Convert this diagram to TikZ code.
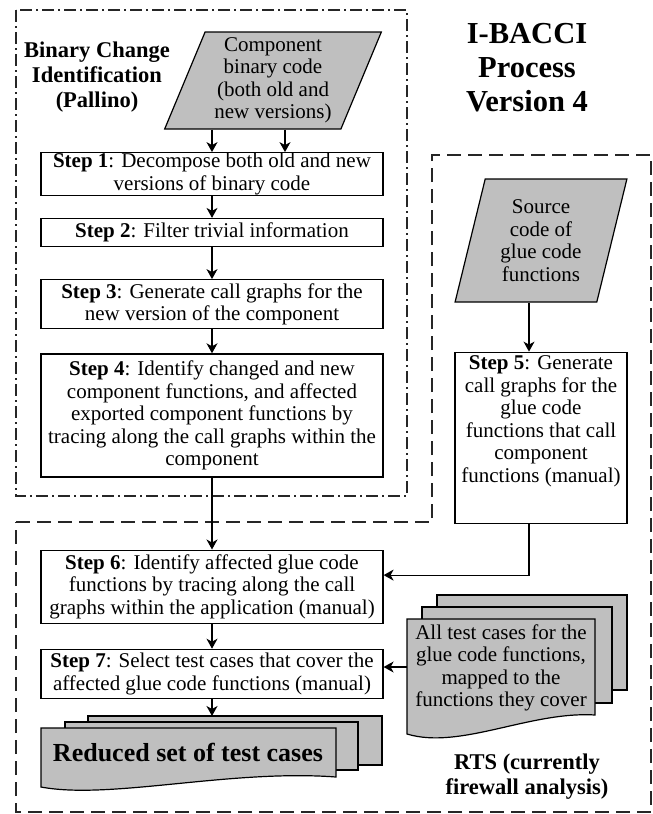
\documentclass[tikz,border=0pt]{standalone}
\usepackage{fontspec}
\setmainfont{Liberation Serif}
\usetikzlibrary{positioning, shapes.geometric, arrows.meta}

\begin{document}
\begin{tikzpicture}[x=1pt, y=-1pt, every node/.style={font=\fontsize{21}{22.5}\selectfont}]

  \tikzstyle{stepbox}=[draw, line width=1.2pt, fill=white, align=center, inner sep=0.5pt, minimum width=342pt]
  \tikzstyle{data}=[trapezium, trapezium stretches=true, draw, line width=1.2pt, fill=black!25, align=center, inner sep=1pt]
  \tikzstyle{boxtitle}=[align=center, inner sep=0pt, font=\fontsize{22.5}{25}\selectfont\bfseries]
  \tikzstyle{sheet}=[draw, line width=1.2pt, fill=black!25]
  \tikzstyle{flow}=[-{Stealth[length=10pt, width=11pt, inset=3pt]}, line width=1.2pt]

  \useasboundingbox (0,0) rectangle (653,814);

  % group borders
  \draw [dash pattern=on 12pt off 4pt on 2pt off 4pt, line width=1.2pt, black!85] (16,10) rectangle (407,496);
  \draw [dash pattern=on 14pt off 7pt, line width=1.2pt, black!85]
    (16,522) -- (432,522) -- (432,155) -- (651,155) -- (651,812) -- (16,812) -- cycle;

  \node [boxtitle, font=\fontsize{30.5}{34}\selectfont\bfseries] (title) at (527,67.5) {I-BACCI\\Process\\Version 4};
  \node [boxtitle] (pallino) at (97,77) {Binary Change\\Identification\\(Pallino)};
  \node [boxtitle] (rts) at (527,777) {RTS (currently\\firewall analysis)};

  \node [data, trapezium left angle=68, trapezium right angle=112, minimum width=217pt, minimum height=97pt] (binary) at (273,80.5) {
    Component\\binary code\\(both old and\\new versions)
  };

  \node [stepbox, minimum height=40pt] (s1) at (212,174) {\textbf{Step 1}: Decompose both old and new\\versions of binary code};
  \node [stepbox, minimum height=28pt, below=22pt of s1] (s2) {\textbf{Step 2}: Filter trivial information};
  \node [stepbox, minimum height=49pt, below=32pt of s2] (s3) {\textbf{Step 3}: Generate call graphs for the\\new version of the component};
  \node [stepbox, minimum height=123pt, below=24pt of s3] (s4) {
    \textbf{Step 4}: Identify changed and new\\
    component functions, and affected\\
    exported component functions by\\
    tracing along the call graphs within the\\
    component
  };
  \node [stepbox, minimum height=73pt, below=72pt of s4] (s6) {
    \textbf{Step 6}: Identify affected glue code\\
    functions by tracing along the call\\
    graphs within the application (manual)
  };
  \node [stepbox, minimum height=49pt, below=25pt of s6] (s7) {
    \textbf{Step 7}: Select test cases that cover the\\
    affected glue code functions (manual)
  };

  \node [data, trapezium left angle=75, trapezium right angle=105, minimum width=172pt, minimum height=123pt] (source) at (541,240.5) {
    Source\\code of\\glue code\\functions
  };
  \node [stepbox, minimum width=172pt, minimum height=171pt, below=49pt of source] (s5) {};
  \node [below=3pt of s5.north, align=center, inner sep=1pt] (s5-text) {
    \textbf{Step 5}: Generate\\call graphs for the\\glue code\\functions that call\\component\\functions (manual)
  };

  % stacked documents
  \draw [sheet] (88,716) rectangle (382,765);
  \draw [sheet] (65,722) rectangle (358,770);
  \draw [sheet] (41,728) -- (336,728) -- (336,777) .. controls (230,769) and (110,800) .. (41,787) -- cycle;
  \node [font=\fontsize{26}{30}\selectfont\bfseries] (reduced) at (188,752) {Reduced set of test cases};

  \draw [sheet] (437,595) rectangle (627,690);
  \draw [sheet] (422,607) rectangle (612,703);
  \draw [sheet] (407,619) -- (595,619) -- (595,715) .. controls (530,711) and (460,750) .. (407,734) -- cycle;
  \node [align=center] (tests) at (501,668) {All test cases for the\\glue code functions,\\mapped to the\\functions they cover};

  \coordinate (binary-b) at (285,0);
  \coordinate (tests-w) at (407,667);
  \coordinate (reduced-n) at (212,716);

  \draw [flow] (binary.south -| s1) -- (s1);
  \draw [flow] (binary.south -| binary-b) -- (binary-b |- s1.north);
  \draw [flow] (s1) -- (s2);
  \draw [flow] (s2) -- (s3);
  \draw [flow] (s3) -- (s4);
  \draw [flow] (s4) -- (s6);
  \draw [flow] (s6) -- (s7);
  \draw [flow] (s7) -- (reduced-n);

  \draw [flow] ([xshift=-12pt]source.south) -- ([xshift=-12pt]s5.north);
  \draw [flow] ([xshift=-12pt]s5.south) |- ([yshift=11.5pt]s6.east);
  \draw [flow] (tests-w) -- (tests-w -| s7.east);
\end{tikzpicture}
\end{document}
